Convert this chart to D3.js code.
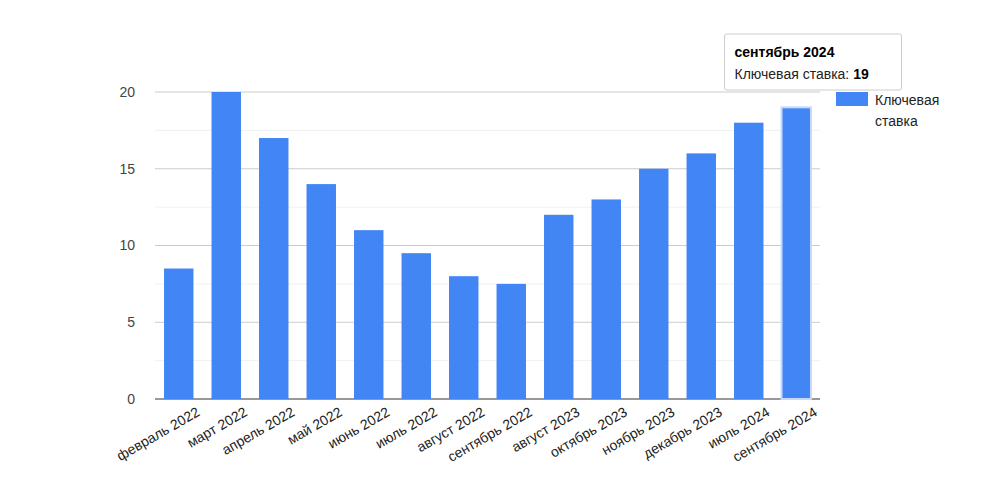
<!DOCTYPE html>
<meta charset="utf-8">
<style>
body { margin: 0; background: #fff; font-family: "Liberation Sans", Arial, sans-serif; }
.axis path, .axis line { stroke: none; }
</style>
<script src="https://d3js.org/d3.v7.min.js"></script>
<div id="viz"></div>
<script>
var months = ["февраль 2022","март 2022","апрель 2022","май 2022","июнь 2022","июль 2022","август 2022",
  "сентябрь 2022","август 2023","октябрь 2023","ноябрь 2023","декабрь 2023","июль 2024","сентябрь 2024"];
var rates = [8.5, 20, 17, 14, 11, 9.5, 8, 7.5, 12, 13, 15, 16, 18, 19];
var yTicks = [0, 5, 10, 15, 20];
var minorTicks = [2.5, 7.5, 12.5, 17.5];
var seriesName = "Ключевая ставка";

var margin = {top: 92, right: 167, bottom: 92, left: 155};
var width = 987 - margin.left - margin.right;
var height = 491 - margin.top - margin.bottom;

var svg = d3.select("#viz").append("svg")
    .attr("width", 987).attr("height", 491)
  .append("g")
    .attr("transform", "translate(" + margin.left + "," + margin.top + ")");

var x = d3.scaleBand().domain(months).range([0, width]).paddingInner(0.38).paddingOuter(0.19);
var y = d3.scaleLinear().domain([0, 20]).range([height, 0]);

// gridlines
svg.selectAll(".minor").data(minorTicks).enter().append("line")
    .attr("x1", 0).attr("x2", width)
    .attr("y1", function(d) { return y(d); }).attr("y2", function(d) { return y(d); })
    .attr("stroke", "#f0f0f0");
svg.selectAll(".major").data(yTicks).enter().append("line")
    .attr("x1", 0).attr("x2", width)
    .attr("y1", function(d) { return y(d); }).attr("y2", function(d) { return y(d); })
    .attr("stroke", function(d) { return d === 0 ? "#333" : "#ccc"; });

// y labels
svg.append("g").attr("class", "axis")
    .call(d3.axisLeft(y).tickValues(yTicks).tickSize(0).tickPadding(20))
    .selectAll("text").style("font-size", "14px").attr("fill", "#444")
    .style("font-family", "Liberation Sans, Arial, sans-serif");

// bars
svg.selectAll(".bar").data(rates).enter().append("rect")
    .attr("x", function(d, i) { return x(months[i]); })
    .attr("y", function(d) { return y(d); })
    .attr("width", x.bandwidth())
    .attr("height", function(d) { return height - y(d); })
    .attr("fill", "#4285f4")
    .attr("stroke", function(d, i) { return i === rates.length - 1 ? "#c6d9fb" : "none"; })
    .attr("stroke-width", 2);

// x labels
svg.append("g").attr("class", "axis")
    .attr("transform", "translate(0," + height + ")")
    .call(d3.axisBottom(x).tickSize(0).tickPadding(6))
    .selectAll("text")
    .style("font-size", "14px").attr("fill", "#222")
    .style("font-family", "Liberation Sans, Arial, sans-serif")
    .style("text-anchor", "end")
    .attr("transform", "translate(14,2) rotate(-30)");

// legend
var lg = svg.append("g").attr("transform", "translate(" + (width + 16) + ",0)");
lg.append("rect").attr("width", 32).attr("height", 14).attr("fill", "#4285f4");
lg.append("text").attr("x", 39).attr("y", 13).text("Ключевая").style("font-size", "14px").attr("fill", "#222");
lg.append("text").attr("x", 39).attr("y", 34).text("ставка").style("font-size", "14px").attr("fill", "#222");

// tooltip
var last = rates.length - 1;
var tt = svg.append("g").attr("transform", "translate(" + (x(months[last]) - 57) + "," + (-58) + ")");
tt.append("rect").attr("width", 177).attr("height", 56).attr("fill", "#fff")
    .attr("stroke", "#ccc").attr("rx", 2);
tt.append("text").attr("x", 10).attr("y", 23).text(months[last])
    .style("font-size", "14px").style("font-weight", "bold").attr("fill", "#000");
var t2 = tt.append("text").attr("x", 10).attr("y", 45).style("font-size", "14px").attr("fill", "#222");
t2.append("tspan").text(seriesName + ": ");
t2.append("tspan").text(rates[last]).style("font-weight", "bold").attr("fill", "#000");
</script>
